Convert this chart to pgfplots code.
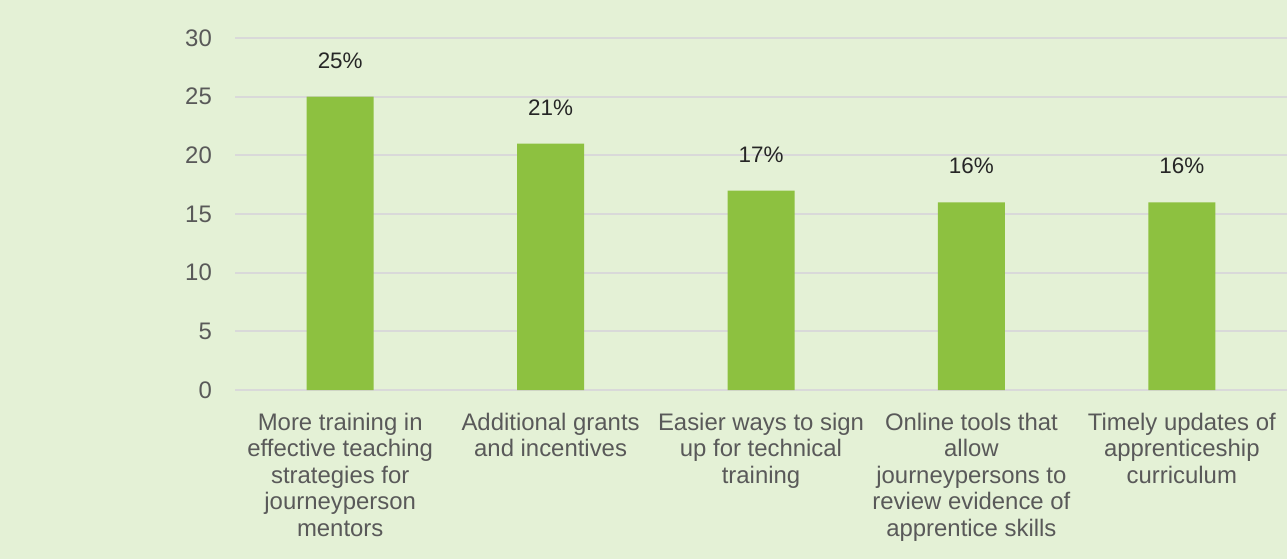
\documentclass[border=0pt]{standalone}
\usepackage{fontspec}
\setmainfont{Liberation Sans}
\usepackage{pgfplots}
\pgfplotsset{compat=1.18}
\usetikzlibrary{backgrounds}
\definecolor{bgpale}{RGB}{228,241,214}
\definecolor{barleaf}{RGB}{141,193,64}
\definecolor{gridgray}{RGB}{217,217,217}
\definecolor{ticktext}{RGB}{89,89,89}
\definecolor{labeltext}{RGB}{38,38,38}
\begin{document}
\begin{tikzpicture}
\begin{axis}[
  name=ax,
  scale only axis, width=1052bp, height=352bp,
  xmin=-0.5, xmax=4.5, ymin=0, ymax=30,
  ybar, bar width=67bp,
  axis line style={draw=none}, tick style={draw=none},
  major tick length=0pt,
  ymajorgrids, grid style={draw=gridgray, line width=1.8bp},
  ytick={0,5,...,30},
  xtick={0,1,2,3,4},
  xticklabels={
    {More training in\\effective teaching\\strategies for\\journeyperson\\mentors},
    {Additional grants\\and incentives},
    {Easier ways to sign\\up for technical\\training},
    {Online tools that\\allow\\journeypersons to\\review evidence of\\apprentice skills},
    {Timely updates of\\apprenticeship\\curriculum}},
  xticklabel style={font=\fontsize{24}{26.5}\selectfont, text=ticktext,
    align=center, anchor=north, inner sep=0pt, yshift=-23bp},
  yticklabel style={font=\fontsize{24}{26}\selectfont, text=ticktext,
    anchor=east, inner sep=0pt, xshift=-23bp},
  /pgf/number format/assume math mode=true,
  nodes near coords={\pgfmathprintnumber{\pgfplotspointmeta}\%},
  every node near coord/.append style={font=\fontsize{22.5}{26}\selectfont,
    text=labeltext, anchor=center, yshift=36bp},
]
\addplot[fill=barleaf, draw=none] coordinates {(0,25) (1,21) (2,17) (3,16) (4,16)};
\end{axis}
\pgfresetboundingbox
\path[use as bounding box] ([xshift=-235bp,yshift=-169bp]ax.south west) rectangle ([yshift=38bp]ax.north east);
\begin{pgfonlayer}{background}
\fill[bgpale] ([xshift=-235bp,yshift=-169bp]ax.south west) rectangle ([yshift=38bp]ax.north east);
\end{pgfonlayer}
\end{tikzpicture}
\end{document}
